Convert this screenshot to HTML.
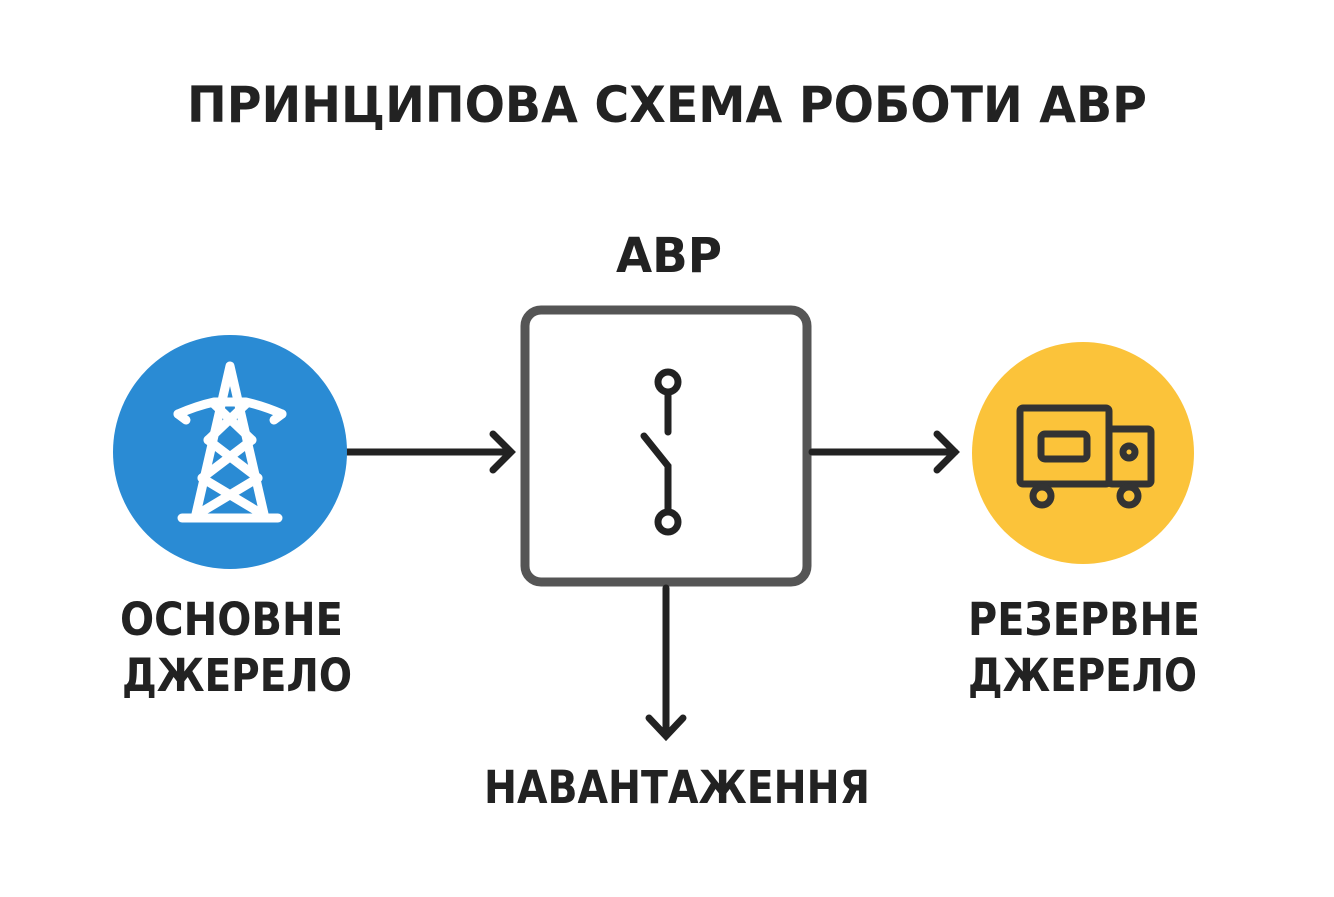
<!DOCTYPE html>
<html><head><meta charset="utf-8"><style>
body{margin:0;background:#fff;}
svg text{font-family:"DejaVu Sans","Liberation Sans",sans-serif;font-weight:bold;fill:#222;}
</style></head><body>
<svg width="1334" height="892" viewBox="0 0 1334 892" xmlns="http://www.w3.org/2000/svg">
<text x="187" y="122" font-size="50" textLength="960" lengthAdjust="spacingAndGlyphs">ПРИНЦИПОВА СХЕМА РОБОТИ АВР</text>
<text x="616" y="272" font-size="48" textLength="106" lengthAdjust="spacingAndGlyphs">АВР</text>
<rect x="525" y="310" width="282" height="272" rx="16" fill="none" stroke="#555" stroke-width="9"/>
<g stroke="#222" stroke-width="7" fill="none" stroke-linecap="round">
<line x1="347" y1="452" x2="510" y2="452"/><polyline points="493,434 511,452 493,470"/>
<line x1="812" y1="452" x2="955" y2="452"/><polyline points="937,434 955,452 937,470"/>
<line x1="666" y1="588" x2="666" y2="735"/><polyline points="649,718 666,736 683,718"/>
<circle cx="668" cy="382" r="10"/><line x1="668" y1="392" x2="668" y2="432"/>
<polyline points="644,436 668,466 668,512"/><circle cx="668" cy="522" r="10"/>
</g>
<circle cx="230" cy="452" r="117" fill="#2a8bd4"/>
<g stroke="#fff" stroke-width="9" fill="none" stroke-linecap="round" stroke-linejoin="round">
<polyline points="196,514 230,366 264,514"/>
<line x1="182" y1="518" x2="278" y2="518"/>
<path d="M178,414 Q196,406 214,402 L246,402 Q264,406 282,414"/>
<line x1="178" y1="414" x2="186" y2="420"/><line x1="282" y1="414" x2="274" y2="420"/>
<line x1="214" y1="404" x2="252" y2="440"/><line x1="246" y1="404" x2="208" y2="440"/>
<line x1="208" y1="440" x2="258" y2="478"/><line x1="252" y1="440" x2="202" y2="478"/>
<line x1="202" y1="478" x2="262" y2="514"/><line x1="258" y1="478" x2="198" y2="514"/>
</g>
<circle cx="1083" cy="453" r="111" fill="#fbc33a"/>
<g stroke="#333" stroke-width="7" fill="none" stroke-linejoin="round">
<rect x="1020" y="408" width="89" height="76" rx="3"/>
<rect x="1109" y="429" width="42" height="55" rx="3"/>
<rect x="1041" y="434" width="46" height="25" rx="4"/>
<circle cx="1129" cy="452" r="6"/>
<circle cx="1042" cy="496" r="9"/><circle cx="1129" cy="496" r="9"/>
</g>
<g font-size="45">
<text x="120" y="635" textLength="223" lengthAdjust="spacingAndGlyphs">ОСНОВНЕ</text>
<text x="122" y="691" textLength="230" lengthAdjust="spacingAndGlyphs">ДЖЕРЕЛО</text>
<text x="968" y="635" textLength="232" lengthAdjust="spacingAndGlyphs">РЕЗЕРВНЕ</text>
<text x="968" y="691" textLength="229" lengthAdjust="spacingAndGlyphs">ДЖЕРЕЛО</text>
<text x="484" y="803" textLength="386" lengthAdjust="spacingAndGlyphs">НАВАНТАЖЕННЯ</text>
</g>
</svg>
</body></html>
